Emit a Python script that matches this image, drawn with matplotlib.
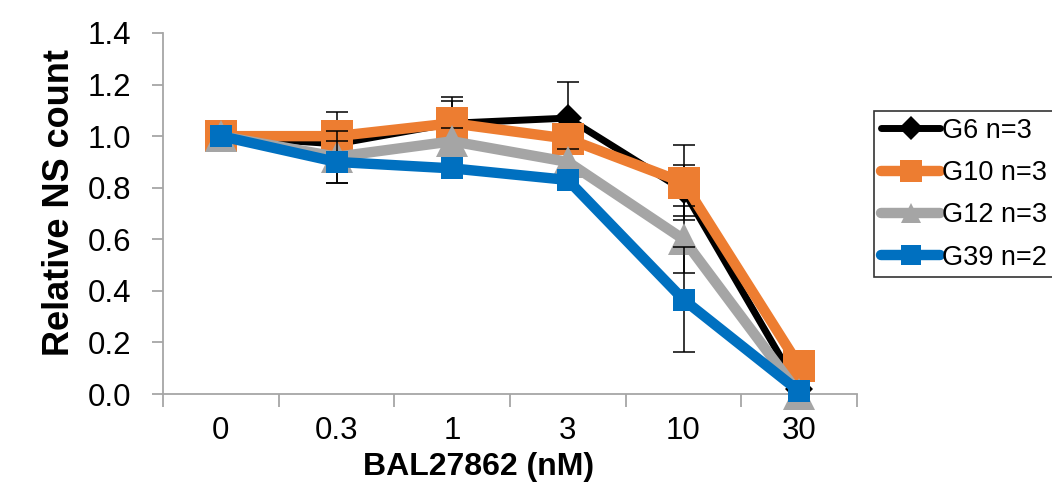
import matplotlib
matplotlib.use("Agg")
import matplotlib.pyplot as plt
import numpy as np

categories = ["0", "0.3", "1", "3", "10", "30"]
series_names = ["G6 n=3", "G10 n=3", "G12 n=3", "G39 n=2"]
g6 = [1.00, 0.97, 1.05, 1.07, 0.79, 0.02]
g10 = [1.00, 1.00, 1.05, 0.99, 0.82, 0.11]
g12 = [1.00, 0.92, 0.98, 0.90, 0.60, 0.00]
g39 = [1.00, 0.90, 0.875, 0.83, 0.366, 0.01]
g6_err = [0.0, 0.05, 0.10, 0.14, 0.10, 0.02]
g10_err = [0.0, 0.095, 0.085, 0.05, 0.145, 0.03]
g12_err = [0.0, 0.10, 0.05, 0.05, 0.13, 0.0]
g39_err = [0.0, 0.08, 0.02, 0.02, 0.205, 0.0]

colors = ["#000000", "#ED7D31", "#A5A5A5", "#0070C0"]
markers = ["D", "s", "^", "s"]
msizes = [14, 23, 23, 16]
lws = [5, 7.5, 7.5, 7.5]

plt.rcParams['font.family'] = ['Liberation Sans', 'DejaVu Sans']

W, H = 1052, 483
fig = plt.figure(figsize=(W/100, H/100), dpi=100)
ax = fig.add_axes([163/W, 1-394/H, (857-163)/W, (394-33)/H])

x = np.arange(len(categories))
data = [g6, g10, g12, g39]
errs = [g6_err, g10_err, g12_err, g39_err]
handles = []
for i, (vals, err) in enumerate(zip(data, errs)):
    base = 3 + i
    ax.errorbar(x, vals, yerr=err, fmt='none', ecolor='black', elinewidth=1.1,
                capsize=8, capthick=1.1, zorder=base)
    h, = ax.plot(x, vals, color=colors[i], marker=markers[i], markersize=msizes[i],
                 linewidth=lws[i], markeredgewidth=0, zorder=base + 0.5,
                 solid_joinstyle='miter', solid_capstyle='round',
                 clip_on=False, label=series_names[i])
    handles.append(h)

ax.set_xlim(-0.5, len(categories) - 0.5)
ax.set_ylim(0, 1.4)
yt = np.arange(0, 1.41, 0.2)
ax.set_yticks(yt)
ax.set_yticklabels([f"{v:.1f}" for v in yt], fontsize=22.5)
ax.set_xticks(x)
ax.set_xticklabels(categories, fontsize=22.5)
ax.set_xticks(np.arange(-0.5, len(categories), 1.0), minor=True)
ax.tick_params(axis='x', which='major', length=0, pad=16)
ax.tick_params(axis='x', which='minor', length=9, width=1.3, color='#A6A6A6', direction='out')
ax.tick_params(axis='y', length=8, width=1.3, color='#A6A6A6', pad=15)

for s in ['top', 'right']:
    ax.spines[s].set_visible(False)
for s in ['left', 'bottom']:
    ax.spines[s].set_color('#A6A6A6')
    ax.spines[s].set_linewidth(1.3)
    ax.spines[s].set_zorder(2)

fig.text(479/W, 1-475/H, "BAL27862 (nM)", fontsize=23, fontweight='bold',
         ha='center', va='baseline')
fig.text(60/W, 1-202/H, "Relative NS count", fontsize=26, fontweight='bold',
         ha='center', va='center', rotation=90)

leg = fig.legend(handles=handles, loc='upper left',
                 bbox_to_anchor=(874/W, 1-111/H),
                 fontsize=19.5, frameon=True, fancybox=False, edgecolor='black',
                 handlelength=2.2, handletextpad=0.05, labelspacing=0.6,
                 borderpad=0.25, borderaxespad=0)
leg.get_frame().set_linewidth(1.2)
for lh, ms in zip(leg.legend_handles, [12, 16, 14, 15]):
    lh.set_markersize(ms)

fig.savefig("out.png", dpi=100)
